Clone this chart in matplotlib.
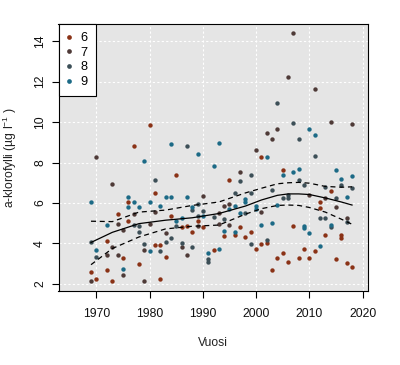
import matplotlib
matplotlib.use("Agg")
import matplotlib.pyplot as plt
from matplotlib.lines import Line2D

plt.rcParams['font.family'] = ['Liberation Sans', 'DejaVu Sans']
plt.rcParams['mathtext.fontset'] = 'custom'
plt.rcParams['mathtext.rm'] = 'Liberation Sans'
plt.rcParams['mathtext.default'] = 'regular'

# ---- data ----
months = ["6", "7", "8", "9"]
colors = ["#8a3216", "#4e3a37", "#3c4f57", "#1c6a86"]

years_6 = [1969, 1970, 1972, 1972, 1973, 1974, 1975, 1976, 1976, 1977, 1978, 1980, 1981, 1981,
           1982, 1982, 1983, 1984, 1985, 1986, 1987, 1988, 1989, 1990, 1992, 1994, 1995, 1996,
           1997, 1998, 1999, 2000, 2001, 2001, 2002, 2003, 2004, 2005, 2005, 2006, 2007, 2008,
           2009, 2010, 2011, 2012, 2012, 2013, 2014, 2015, 2016, 2016, 2017, 2018]
vals_6 = [2.6, 2.25, 4.14, 2.69, 2.15, 5.46, 3.27, 6.06, 5.13, 8.83, 2.97, 9.86, 6.51, 3.93,
          3.93, 2.25, 3.35, 5.36, 7.4, 4.8, 4.86, 4.58, 5.13, 4.8, 3.68, 4.37, 7.14, 4.42,
          4.8, 4.34, 4.57, 3.74, 8.27, 3.98, 4.02, 2.71, 3.27, 7.64, 3.55, 3.06, 4.85, 3.3,
          3.73, 3.3, 3.65, 6.03, 5.75, 4.4, 6.6, 3.25, 4.44, 4.26, 3.02, 2.85]

years_7 = [1969, 1970, 1972, 1973, 1973, 1974, 1974, 1975, 1975, 1977, 1979, 1979, 1980, 1981,
           1983, 1986, 1987, 1989, 1990, 1993, 1993, 1994, 1995, 1995, 1997, 2000, 2001, 2002,
           2003, 2004, 2006, 2007, 2010, 2011, 2013, 2014, 2015, 2017, 2018]
vals_7 = [2.16, 8.29, 3.41, 6.95, 3.84, 4.98, 3.41, 4.68, 2.46, 5.46, 3.68, 2.15, 4.96, 5.57,
          4.54, 3.81, 3.43, 4.84, 6.35, 5.49, 4.96, 5.85, 5.95, 4.91, 7.55, 8.62, 5.57, 9.48,
          9.15, 9.64, 12.24, 14.42, 6.4, 11.65, 6.23, 10.02, 5.82, 5.24, 9.92]

years_8 = [1969, 1970, 1977, 1978, 1978, 1979, 1981, 1982, 1983, 1984, 1985, 1986, 1987, 1988,
           1988, 1989, 1989, 1990, 1991, 1991, 1992, 1994, 1996, 1997, 1998, 1999, 1999, 1999,
           2002, 2003, 2004, 2005, 2006, 2006, 2007, 2008, 2008, 2009, 2011, 2012, 2013, 2013,
           2014, 2015, 2016, 2017, 2018]
vals_8 = [4.09, 3.35, 4.91, 4.86, 4.58, 3.98, 7.14, 3.65, 4.09, 4.26, 4.86, 4.04, 8.83, 5.65,
          3.84, 5.95, 5.36, 5.62, 3.22, 3.06, 5.33, 5.2, 6.51, 7.1, 5.5, 7.38, 6.51, 3.98,
          4.17, 6.66, 10.96, 6.27, 6.4, 6.27, 9.97, 9.15, 7.16, 6.89, 8.31, 5.24, 6.8, 5.24,
          4.8, 6.27, 6.87, 5.08, 6.75]

years_9 = [1969, 1970, 1972, 1975, 1976, 1976, 1977, 1978, 1979, 1980, 1980, 1982, 1983, 1984,
           1984, 1985, 1986, 1987, 1988, 1989, 1990, 1991, 1992, 1993, 1993, 1994, 1995, 1996,
           1996, 1997, 1998, 1998, 2000, 2000, 2001, 2002, 2003, 2004, 2005, 2007, 2008, 2009,
           2009, 2010, 2010, 2011, 2012, 2014, 2015, 2016, 2017, 2018]
vals_9 = [6.06, 3.68, 4.9, 2.74, 6.3, 5.8, 6.06, 5.82, 8.07, 6.06, 3.65, 5.85, 6.3, 8.93,
          6.3, 5.13, 5.25, 6.3, 5.79, 8.44, 5.37, 3.55, 7.84, 8.98, 3.74, 4.62, 5.72, 5.85,
          4.58, 5.53, 6.18, 6.06, 5.85, 5.72, 4.91, 8.27, 5.01, 5.9, 7.4, 7.55, 7.7, 4.85,
          4.75, 9.68, 4.52, 9.36, 3.86, 4.89, 7.63, 7.2, 6.3, 7.35]

# smooth trend and its confidence band
curve_years = [1969, 1973, 1978, 1983, 1988, 1993, 1998, 2001, 2004, 2006, 2008, 2010, 2013, 2016, 2018]
fit = [4.05, 4.55, 4.98, 5.15, 5.27, 5.48, 5.85, 6.15, 6.38, 6.45, 6.45, 6.42, 6.25, 6.05, 5.9]
upper = [5.1, 5.08, 5.55, 5.65, 5.88, 6.05, 6.5, 6.73, 6.95, 7.0, 7.02, 6.98, 6.82, 6.78, 6.8]
lower = [2.95, 3.75, 4.32, 4.72, 4.85, 4.91, 5.45, 5.72, 5.88, 5.9, 5.88, 5.78, 5.55, 5.2, 4.95]

xticks = [1970, 1980, 1990, 2000, 2010, 2020]
yticks = [2, 4, 6, 8, 10, 12, 14]
xlabel = "Vuosi"
ylabel = r"a-klorofylli (µg l$^{-1}$ )"

# ---- figure ----
W, H = 400, 365
fig = plt.figure(figsize=(W / 100, H / 100), dpi=100)
left, right, top, bottom = 58.5, 368, 24, 291
ax = fig.add_axes([left / W, 1 - bottom / H, (right - left) / W, (bottom - top) / H])
ax.set_facecolor("#e5e5e5")
ax.set_xlim(1962.9, 2021.0)
ax.set_ylim(1.65, 14.85)

ax.set_xticks(xticks)
ax.set_yticks(yticks)
ax.grid(True, color="white", linestyle=(0, (2, 2)), linewidth=0.8)
ax.set_axisbelow(True)

series = [(years_6, vals_6), (years_7, vals_7), (years_8, vals_8), (years_9, vals_9)]
for (xs, ys), c in zip(series, colors):
    ax.scatter(xs, ys, s=10, color=c, linewidths=0, zorder=3)

ax.plot(curve_years, fit, color="black", lw=0.9, zorder=4)
ax.plot(curve_years, upper, color="black", lw=0.9, dashes=(4, 3), zorder=4)
ax.plot(curve_years, lower, color="black", lw=0.9, dashes=(4, 3), zorder=4)

for sp in ax.spines.values():
    sp.set_color("black")
    sp.set_linewidth(0.8)

ax.tick_params(axis="both", length=5, width=0.8, color="black", labelsize=8.7,
               labelcolor="#111111")
ax.tick_params(axis="x", pad=7)
ax.tick_params(axis="y", pad=4)
for lab in ax.get_yticklabels():
    lab.set_rotation(90)
    lab.set_verticalalignment("center")

fig.text((left + right) / 2 / W, 1 - 343 / H, xlabel, ha="center", va="center",
         fontsize=8.7, color="#222222")
fig.text(10 / W, 1 - ((top + bottom) / 2) / H, ylabel, ha="center", va="center",
         rotation=90, fontsize=8.7, color="#222222")

handles = [Line2D([0], [0], marker="o", linestyle="none", markersize=3.4,
                  markerfacecolor=c, markeredgewidth=0) for c in colors]
leg = ax.legend(handles, months, loc="upper left", borderaxespad=0, fontsize=9.2,
                handlelength=0.3, handletextpad=0.75, borderpad=0.65, labelspacing=0.2,
                fancybox=False, framealpha=1, edgecolor="black", facecolor="white")
leg.get_frame().set_linewidth(0.8)
leg.set_zorder(5)

fig.savefig("out.png", dpi=100)
